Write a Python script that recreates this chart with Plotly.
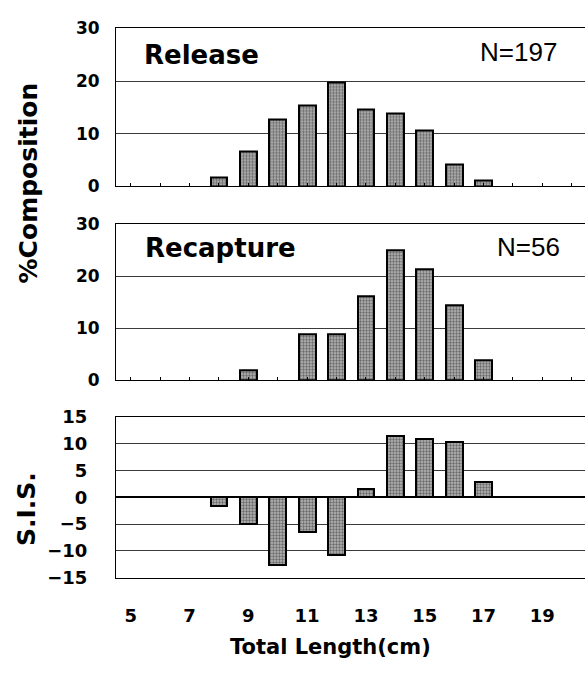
import plotly.graph_objects as go

# ---- data ----
release_len = [8, 9, 10, 11, 12, 13, 14, 15, 16, 17]
release_pct = [1.6, 6.6, 12.8, 15.3, 19.8, 14.7, 13.8, 10.6, 4.1, 1.1]

recap_len = [9, 11, 12, 13, 14, 15, 16, 17]
recap_pct = [1.9, 8.9, 8.9, 16.1, 25.0, 21.4, 14.4, 3.9]

sis_len = [8, 9, 10, 11, 12, 13, 14, 15, 16, 17]
sis_val = [-1.6, -4.9, -12.6, -6.4, -10.8, 1.5, 11.4, 10.9, 10.3, 2.8]

x_ticks = [5, 7, 9, 11, 13, 15, 17, 19]
pct_ticks = [0, 10, 20, 30]
sis_ticks = [-15, -10, -5, 0, 5, 10, 15]

W, H = 585, 673
BOLD = "DejaVu Sans"


def py(px):
    return 1 - px / H


bar_style = dict(
    color="#8f8f8f",
    line=dict(color="black", width=2),
    pattern=dict(shape=".", fgcolor="#151515", bgcolor="#bcbcbc", size=3, solidity=0.5),
)

fig = go.Figure()
fig.add_trace(go.Bar(x=release_len, y=release_pct, width=0.57, marker=bar_style,
                     xaxis="x", yaxis="y", showlegend=False))
fig.add_trace(go.Bar(x=recap_len, y=recap_pct, width=0.57, marker=bar_style,
                     xaxis="x2", yaxis="y2", showlegend=False))
fig.add_trace(go.Bar(x=sis_len, y=sis_val, width=0.57, marker=bar_style,
                     xaxis="x3", yaxis="y3", showlegend=False))

xdom = [116 / W, 1.0]
xrange = [4.5, 20.45]
minor_ticks = list(range(5, 21))

common_x = dict(domain=xdom, range=xrange, showgrid=False, zeroline=False,
                showline=True, linecolor="black", linewidth=1, mirror=True)
tick_font_top = dict(family=BOLD, size=17, color="black", weight="bold")
tick_font_bot = dict(family=BOLD, size=18, color="black", weight="bold")

common_y = dict(showgrid=True, gridcolor="#3a3a3a", gridwidth=1,
                showline=True, linecolor="black", linewidth=1, ticks="")

fig.update_layout(
    width=W, height=H,
    margin=dict(l=0, r=0, t=0, b=0),
    paper_bgcolor="white", plot_bgcolor="white",
    bargap=0,
    xaxis=dict(**common_x, anchor="y", tickvals=minor_ticks, ticks="inside",
               ticklen=3, tickcolor="black", showticklabels=False),
    yaxis=dict(**common_y, zeroline=False, domain=[py(181), py(18)], range=[0, 30],
               anchor="x", tickvals=pct_ticks, tickfont=tick_font_top,
               ticklabelstandoff=12),
    xaxis2=dict(**common_x, anchor="y2", tickvals=minor_ticks, ticks="inside",
                ticklen=3, tickcolor="black", showticklabels=False),
    yaxis2=dict(**common_y, zeroline=False, domain=[py(381), py(220)], range=[0, 30],
                anchor="x2", tickvals=pct_ticks, tickfont=tick_font_top,
                ticklabelstandoff=12),
    xaxis3=dict(**common_x, anchor="y3", tickvals=x_ticks, ticks="",
                tickfont=tick_font_bot, ticklabelstandoff=22),
    yaxis3=dict(**common_y, zeroline=True, zerolinecolor="black", zerolinewidth=1.5,
                domain=[py(585), py(419)], range=[-15, 15], anchor="x3",
                tickvals=sis_ticks, tickfont=tick_font_bot, ticklabelstandoff=24),
)

ann = []
ann.append(dict(text="Release", x=142 / W, y=py(45), xref="paper", yref="paper",
                xanchor="left", yanchor="middle", showarrow=False,
                font=dict(family=BOLD, size=26, color="black", weight="bold")))
ann.append(dict(text="N=197", x=559 / W, y=py(42), xref="paper", yref="paper",
                xanchor="right", yanchor="middle", showarrow=False,
                font=dict(family="Liberation Sans", size=26, color="black")))
ann.append(dict(text="Recapture", x=143 / W, y=py(245), xref="paper", yref="paper",
                xanchor="left", yanchor="middle", showarrow=False,
                font=dict(family=BOLD, size=26, color="black", weight="bold")))
ann.append(dict(text="N=56", x=562 / W, y=py(244), xref="paper", yref="paper",
                xanchor="right", yanchor="middle", showarrow=False,
                font=dict(family="Liberation Sans", size=26, color="black")))
ann.append(dict(text="%Composition", x=28 / W, y=py(178), xref="paper", yref="paper",
                xanchor="center", yanchor="middle", textangle=-90, showarrow=False,
                font=dict(family=BOLD, size=25, color="black", weight="bold")))
ann.append(dict(text="S.I.S.", x=27 / W, y=py(514), xref="paper", yref="paper",
                xanchor="center", yanchor="middle", textangle=-90, showarrow=False,
                font=dict(family=BOLD, size=25, color="black", weight="bold")))
ann.append(dict(text="Total Length(cm)", x=330 / W, y=py(657), xref="paper", yref="paper",
                xanchor="center", yanchor="middle", showarrow=False,
                font=dict(family=BOLD, size=21, color="black", weight="bold")))
fig.update_layout(annotations=ann)

fig.write_html("out.html")
